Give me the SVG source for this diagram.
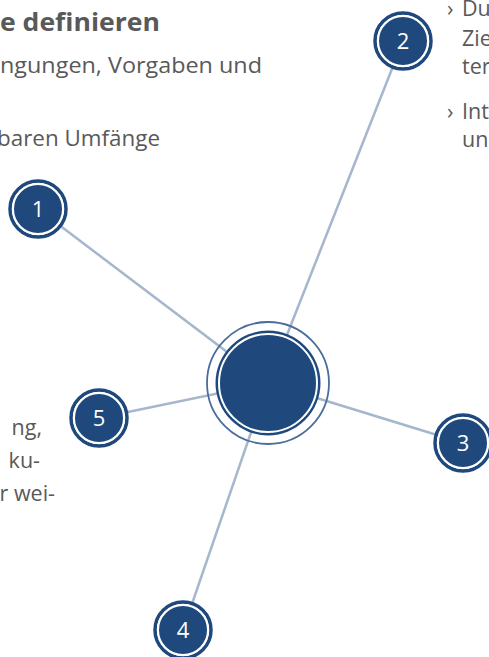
<svg xmlns="http://www.w3.org/2000/svg" width="489" height="657" viewBox="0 0 489 657">
<style>
.t{font-family:"Open Sans","Liberation Sans",sans-serif;font-size:21.5px;fill:#595959}
.h{font-weight:bold;font-size:25px}
.ln{stroke:#a6b6cc;stroke-width:2.5;fill:none}
.ring{fill:none;stroke:#1f497d;stroke-width:3.5}
.core{fill:#1f497d;stroke:#fff;stroke-width:2}
.num{font-family:"Open Sans","Liberation Sans",sans-serif;font-size:22px;fill:#fff;text-anchor:middle}
</style>
<rect width="489" height="657" fill="#fff"/>
<g id="texts">
<text class="t h" x="0" y="31" textLength="160" lengthAdjust="spacingAndGlyphs">e definieren</text>
<text class="t" x="0" y="73" textLength="262" lengthAdjust="spacingAndGlyphs">ngungen, Vorgaben und</text>
<text class="t" x="-3" y="146" textLength="163" lengthAdjust="spacingAndGlyphs">baren Umfänge</text>
<text class="t" x="447" y="16">›<tspan x="462">Du</tspan></text>
<text class="t" x="462" y="46">Zie</text>
<text class="t" x="462" y="74">ter</text>
<text class="t" x="447" y="119">›<tspan x="462">Int</tspan></text>
<text class="t" x="462" y="147">un</text>
<text class="t" x="42" y="435" text-anchor="end">ng,</text>
<text class="t" x="40" y="468" text-anchor="end">ku-</text>
<text class="t" x="55" y="501" text-anchor="end">r wei-</text>
</g>
<g id="connectors">
<line class="ln" x1="268" y1="383" x2="38" y2="209"/>
<line class="ln" x1="268" y1="383" x2="403" y2="41"/>
<line class="ln" x1="268" y1="383" x2="463" y2="443"/>
<line class="ln" x1="268" y1="383" x2="183" y2="630"/>
<line class="ln" x1="268" y1="383" x2="99" y2="418"/>
</g>
<g id="center">
<circle cx="268" cy="383" r="61" fill="none" stroke="#4a6d9c" stroke-width="1.8"/>
<circle cx="268" cy="383" r="52.5" fill="#1f497d"/>
<circle cx="268" cy="383" r="49" fill="#1f497d" stroke="#fff" stroke-width="2"/>
</g>
<g id="node1">
<circle class="ring" cx="38" cy="209" r="28" fill="#fff"/>
<circle class="core" cx="38" cy="209" r="25"/>
<text class="num" x="38" y="217">1</text>
</g>
<g id="node2">
<circle class="ring" cx="403" cy="41" r="28" fill="#fff"/>
<circle class="core" cx="403" cy="41" r="25"/>
<text class="num" x="403" y="49">2</text>
</g>
<g id="node3">
<circle class="ring" cx="463" cy="443" r="28" fill="#fff"/>
<circle class="core" cx="463" cy="443" r="25"/>
<text class="num" x="463" y="451">3</text>
</g>
<g id="node4">
<circle class="ring" cx="183" cy="630" r="28" fill="#fff"/>
<circle class="core" cx="183" cy="630" r="25"/>
<text class="num" x="183" y="638">4</text>
</g>
<g id="node5">
<circle class="ring" cx="99" cy="418" r="28" fill="#fff"/>
<circle class="core" cx="99" cy="418" r="25"/>
<text class="num" x="99" y="426">5</text>
</g>
</svg>
